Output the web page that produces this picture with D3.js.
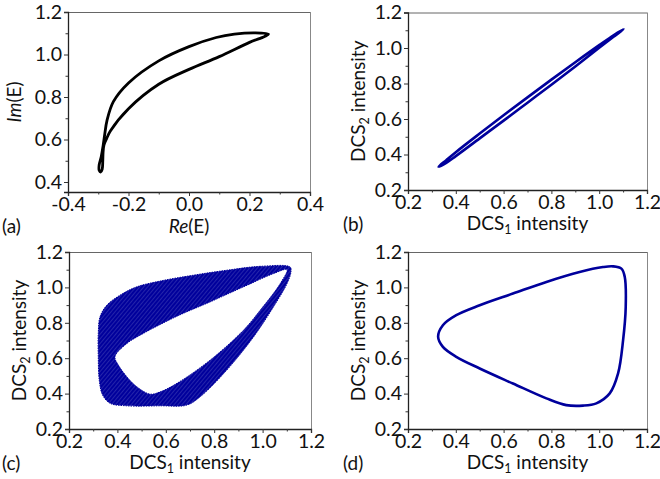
<!DOCTYPE html>
<html><head><meta charset="utf-8">
<script src="https://cdn.jsdelivr.net/npm/d3@7"></script>
<style>
html,body{margin:0;padding:0;background:#fff;}
svg{display:block;font-family:Lato,"Open Sans",sans-serif;}
</style></head>
<body>
<svg id="chart" width="660" height="479"></svg>
<script>
// ---------- DATA ----------
// Panel (a): Re(E) vs Im(E) closed loop
const aRe = [0.263,0.22,0.15,0.09,0.0,-0.1,-0.2,-0.25,-0.271,-0.279,-0.284,-0.29,-0.297,-0.297,-0.292,-0.287,-0.285,-0.284,-0.281,-0.272,-0.26,-0.2,-0.1,0.0,0.1,0.2,0.25];
const aIm = [1.096,1.102,1.096,1.080,1.037,0.970,0.866,0.778,0.690,0.620,0.570,0.520,0.480,0.455,0.447,0.460,0.500,0.540,0.575,0.605,0.640,0.745,0.860,0.930,0.990,1.057,1.085];
const aTicksX = [-0.4,-0.2,0.0,0.2,0.4];
const aMinorX = [-0.3,-0.1,0.1,0.3];
const aTicksY = [0.4,0.6,0.8,1.0,1.2];
const aMinorY = [0.5,0.7,0.9,1.1];

// Panel (b): DCS1 vs DCS2, thin ellipse
const bX = [0.328,0.36,0.40,0.50,0.60,0.70,0.80,0.90,1.00,1.06,1.102,1.06,1.00,0.90,0.80,0.70,0.60,0.50,0.40,0.36];
const bY = [0.331,0.368,0.413,0.518,0.621,0.722,0.822,0.920,1.016,1.072,1.106,1.063,1.001,0.896,0.793,0.692,0.591,0.491,0.391,0.353];

// Panel (c): band – outer boundary and inner hole
const cOuterX = [1.114,0.990,0.852,0.714,0.577,0.480,0.411,0.356,0.328,0.321,0.321,0.325,0.339,0.370,0.439,0.577,0.687,0.742,0.852,0.963,1.045,1.101,1.117];
const cOuterY = [1.115,1.119,1.097,1.069,1.036,1.003,0.956,0.899,0.833,0.740,0.608,0.476,0.392,0.345,0.331,0.331,0.335,0.382,0.533,0.721,0.890,1.022,1.087];
const cInnerX = [0.390,0.439,0.507,0.646,0.783,0.921,1.045,1.101,1.073,0.990,0.921,0.783,0.646,0.577,0.535,0.480,0.439,0.404];
const cInnerY = [0.608,0.683,0.740,0.837,0.918,1.003,1.078,1.101,1.022,0.871,0.758,0.589,0.458,0.410,0.397,0.439,0.495,0.561];

// Panel (d): smooth triangular loop
const dX = [0.326,0.346,0.402,0.500,0.639,0.779,0.918,1.016,1.058,1.093,1.107,1.111,1.100,1.079,1.044,0.988,0.932,0.862,0.779,0.639,0.500,0.402,0.346];
const dY = [0.721,0.786,0.843,0.899,0.965,1.031,1.087,1.115,1.119,1.106,1.059,0.890,0.702,0.514,0.401,0.345,0.332,0.335,0.373,0.457,0.542,0.608,0.664];

const dcsTicks = [0.2,0.4,0.6,0.8,1.0,1.2];
const dcsMinor = [0.3,0.5,0.7,0.9,1.1];
const panelLabels = ["(a)","(b)","(c)","(d)"];

// ---------- DRAW ----------
const svg = d3.select("#chart");
const blue = "#00009c";
const font = "Lato,'Open Sans',sans-serif";
const fmt = d => d.toFixed(1);
const tickFs = "19.5px";

function makePanel(box, xDom, yDom, xT, xM, yT, yM) {
  const x = d3.scaleLinear().domain(xDom).range([box.l, box.r]);
  const y = d3.scaleLinear().domain(yDom).range([box.b, box.t]);
  const g = svg.append("g");
  g.append("line").attr("x1",box.l).attr("x2",box.r).attr("y1",box.t+0.5).attr("y2",box.t+0.5)
    .attr("stroke","#666").attr("stroke-width",1);
  g.append("line").attr("x1",box.r+0.5).attr("x2",box.r+0.5).attr("y1",box.t).attr("y2",box.b)
    .attr("stroke","#888").attr("stroke-width",1);
  g.append("g").attr("transform",`translate(0,${box.b})`)
    .call(d3.axisBottom(x).tickValues(xT).tickFormat(fmt).tickSize(4).tickPadding(1.5));
  g.append("g").attr("transform",`translate(0,${box.b})`)
    .call(d3.axisBottom(x).tickValues(xM).tickFormat("").tickSize(2.5))
    .call(s=>s.select(".domain").remove());
  g.append("g").attr("transform",`translate(${box.l},0)`)
    .call(d3.axisLeft(y).tickValues(yT).tickFormat(fmt).tickSize(4).tickPadding(2));
  g.append("g").attr("transform",`translate(${box.l},0)`)
    .call(d3.axisLeft(y).tickValues(yM).tickFormat("").tickSize(2.5))
    .call(s=>s.select(".domain").remove());
  g.selectAll(".domain").attr("stroke","#222").attr("stroke-width",1.3);
  g.selectAll(".tick line").attr("stroke","#333");
  g.selectAll(".tick text").attr("font-size",tickFs).attr("fill","#111")
    .attr("font-family",font);
  return {x, y, g};
}

const boxes = [
  {l:68, r:310, t:12, b:192},
  {l:408, r:647, t:12.5, b:190},
  {l:69, r:311, t:252, b:429},
  {l:408, r:647, t:252, b:429}
];

// Panel (a)
const pa = makePanel(boxes[0], [-0.4,0.4], [0.353,1.2], aTicksX, aMinorX, aTicksY, aMinorY);
const aPts = aRe.map((v,i)=>[pa.x(v), pa.y(aIm[i])]);
pa.g.append("path").attr("d", d3.line().curve(d3.curveCatmullRomClosed.alpha(0.5))(aPts))
  .attr("fill","none").attr("stroke","#000").attr("stroke-width",2.8);

// Panel (b)
const pb = makePanel(boxes[1], [0.2,1.2], [0.2,1.2], dcsTicks, dcsMinor, dcsTicks, dcsMinor);
const bPts = bX.map((v,i)=>[pb.x(v), pb.y(bY[i])]);
pb.g.append("path").attr("d", d3.line().curve(d3.curveCatmullRomClosed.alpha(0.5))(bPts))
  .attr("fill","none").attr("stroke",blue).attr("stroke-width",2.6);

// Panel (c)
const pc = makePanel(boxes[2], [0.2,1.2], [0.2,1.2], dcsTicks, dcsMinor, dcsTicks, dcsMinor);
const defs = svg.append("defs");
const pat = defs.append("pattern").attr("id","hatch").attr("patternUnits","userSpaceOnUse")
  .attr("width",3).attr("height",3).attr("patternTransform","rotate(40)");
pat.append("rect").attr("width",3).attr("height",3).attr("fill",blue);
pat.append("line").attr("x1",0).attr("y1",0).attr("x2",0).attr("y2",3)
  .attr("stroke","#fff").attr("stroke-width",0.7).attr("stroke-opacity",0.4);
const lineC = d3.line().curve(d3.curveCatmullRomClosed.alpha(0.5));
const outerPts = cOuterX.map((v,i)=>[pc.x(v), pc.y(cOuterY[i])]);
const innerPts = cInnerX.map((v,i)=>[pc.x(v), pc.y(cInnerY[i])]);
pc.g.append("path").attr("d", lineC(outerPts) + lineC(innerPts))
  .attr("fill","url(#hatch)").attr("fill-rule","evenodd")
  .attr("stroke",blue).attr("stroke-width",1).attr("stroke-dasharray","1.5,1");

// Panel (d)
const pd = makePanel(boxes[3], [0.2,1.2], [0.2,1.2], dcsTicks, dcsMinor, dcsTicks, dcsMinor);
const dPts = dX.map((v,i)=>[pd.x(v), pd.y(dY[i])]);
pd.g.append("path").attr("d", d3.line().curve(d3.curveCatmullRomClosed.alpha(0.5))(dPts))
  .attr("fill","none").attr("stroke",blue).attr("stroke-width",2.6);

// ---------- TEXT ----------
const fs = 19;
function xTitleDCS(box, baseY) {
  const t = svg.append("text").attr("x",(box.l+box.r)/2).attr("y",baseY)
    .attr("text-anchor","middle").attr("font-size",fs+"px").attr("fill","#111");
  t.append("tspan").text("DCS");
  t.append("tspan").attr("dy",4).attr("font-size","12.5px").text("1");
  t.append("tspan").attr("dy",-4).text(" intensity");
}
function yTitleDCS(box, baseX) {
  const cy = (box.t+box.b)/2;
  const t = svg.append("text").attr("transform",`translate(${baseX},${cy}) rotate(-90)`)
    .attr("text-anchor","middle").attr("font-size",fs+"px").attr("fill","#111");
  t.append("tspan").text("DCS");
  t.append("tspan").attr("dy",4).attr("font-size","12.5px").text("2");
  t.append("tspan").attr("dy",-4).text(" intensity");
}
{
  const t = svg.append("text").attr("x",(boxes[0].l+boxes[0].r)/2).attr("y",233)
    .attr("text-anchor","middle").attr("font-size",fs+"px").attr("fill","#111");
  t.append("tspan").attr("font-style","italic").text("Re");
  t.append("tspan").text("(E)");
  const cy = (boxes[0].t+boxes[0].b)/2;
  const t2 = svg.append("text").attr("transform",`translate(21,${cy}) rotate(-90)`)
    .attr("text-anchor","middle").attr("font-size",fs+"px").attr("fill","#111");
  t2.append("tspan").attr("font-style","italic").text("Im");
  t2.append("tspan").text("(E)");
}
xTitleDCS(boxes[1], 230);
yTitleDCS(boxes[1], 365);
xTitleDCS(boxes[2], 469);
yTitleDCS(boxes[2], 26);
xTitleDCS(boxes[3], 469);
yTitleDCS(boxes[3], 365);

const labelPos = [[2,233],[343,231],[2,470],[343,470]];
panelLabels.forEach((s,i)=>{
  svg.append("text").attr("x",labelPos[i][0]).attr("y",labelPos[i][1])
    .attr("font-size",fs+"px").attr("fill","#111").text(s);
});
</script>
</body></html>
